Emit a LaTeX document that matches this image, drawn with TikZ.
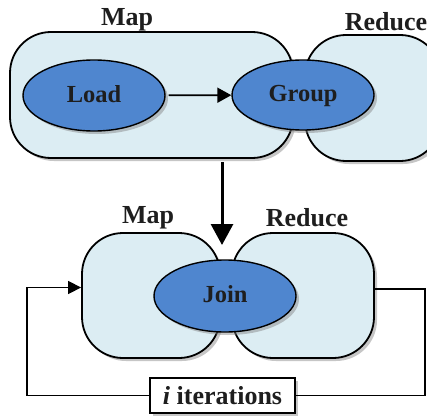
\documentclass[tikz,border=0pt]{standalone}
\usepackage{fontspec}
\setmainfont{Liberation Serif}
\usetikzlibrary{shadows,arrows.meta,shapes.geometric}
\definecolor{boxfill}{HTML}{DCEDF3}
\definecolor{ellfill}{HTML}{4F86CF}
\definecolor{txt}{HTML}{1E1E1E}
\tikzset{
  phase/.style={draw=black, line width=1.8pt, fill=boxfill, rounded corners=41pt, inner sep=0pt,
    drop shadow={opacity=0.45, shadow xshift=3pt, shadow yshift=-3pt}},
  task/.style={ellipse, draw=black, line width=1.4pt, fill=ellfill, inner sep=0pt, text=txt,
    text height=17pt, text depth=4pt,
    font=\fontsize{24.5}{28}\selectfont\bfseries,
    drop shadow={opacity=0.45, shadow xshift=3pt, shadow yshift=-3pt}},
  lbl/.style={font=\fontsize{26}{30}\selectfont\bfseries, text=txt, inner sep=0pt},
  loop/.style={draw=black, line width=1.5pt},
}
\begin{document}
\begin{tikzpicture}[x=1pt,y=-1pt]
\useasboundingbox (0,0) rectangle (427,417);
% top row
\node[phase, minimum width=283pt, minimum height=126pt] (mapT) at (151.5,95) {};
\node[phase, minimum width=136pt, minimum height=126pt] (redT) at (373,98) {};
\node[task, minimum width=142pt, minimum height=71pt] (load) at (94,95.5) {Load};
\node[task, minimum width=142pt, minimum height=70pt] (group) at (303,95) {Group};
\node[lbl] (mapTl) at (127,20) {Map};
\node[lbl] (redTl) at (386,22) {Reduce};
\draw[line width=1.8pt, -{Triangle[width=15pt,length=14pt]}, shorten <=3pt] (load) -- (group);
% bottom row
\node[phase, minimum width=138pt, minimum height=125pt] (mapB) at (151,295.5) {};
\node[phase, minimum width=142pt, minimum height=125pt] (redB) at (303,295.5) {};
\node[task, minimum width=142pt, minimum height=72pt] (join) at (225,296) {Join};
\node[lbl] (mapBl) at (148,218) {Map};
\node[lbl] (redBl) at (307,218) {Reduce};
% vertical arrow
\coordinate (vtop) at (222,162);
\coordinate (vend) at (222,245);
\draw[line width=3pt, -{Triangle[width=22pt,length=21pt]}] (vtop) -- (vend);
% loop
\node[draw=black, line width=1.5pt, fill=white, minimum width=145pt, minimum height=35pt, inner sep=0pt,
  font=\fontsize{26}{30}\selectfont\bfseries, text=txt,
  drop shadow={opacity=0.45, shadow xshift=3pt, shadow yshift=-3pt}] (iter) at (222.5,395.5) {\textit{i} iterations};
\coordinate (lc) at (27,395.5);
\draw[loop, -{Triangle[width=13pt,length=13pt]}] (iter.west) -| ([yshift=8pt]lc |- mapB.west) -- ([yshift=8pt]mapB.west);
\coordinate (rc) at (425,395.5);
\draw[loop] (iter.east) -- (rc) -- (rc |- 0,289) -- (redB.east |- 0,289);
\end{tikzpicture}
\end{document}
